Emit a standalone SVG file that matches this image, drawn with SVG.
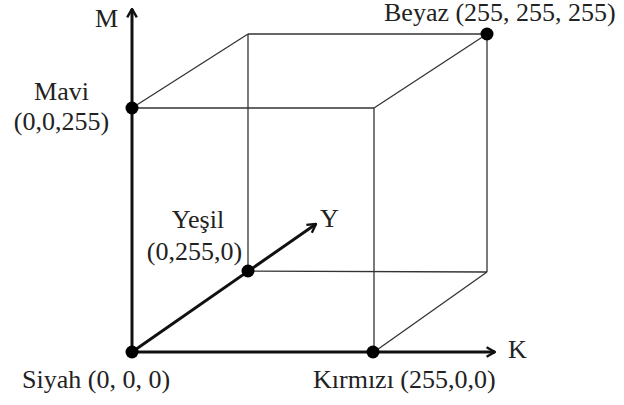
<svg xmlns="http://www.w3.org/2000/svg" width="624" height="405" viewBox="0 0 624 405">
<style>
.axis{stroke:#111;stroke-width:3;fill:none}
.edge{stroke:#333;stroke-width:1.3;fill:none}
.dot{fill:#000}
</style>
<defs>
<marker id="arr" viewBox="0 0 10 10" refX="9" refY="5" markerWidth="4" markerHeight="4" orient="auto" markerUnits="strokeWidth">
<path d="M2,1 L9,5 L2,9" fill="none" stroke="#111" stroke-width="2"/>
</marker>
</defs>
<rect width="624" height="405" fill="#fff"/>
<g id="connectors">
<line class="edge" x1="132" y1="108" x2="374" y2="108"/>
<line class="edge" x1="374" y1="108" x2="374" y2="352"/>
<line class="edge" x1="248" y1="34" x2="487" y2="34"/>
<line class="edge" x1="487" y1="34" x2="487" y2="272"/>
<line class="edge" x1="248" y1="271" x2="487" y2="272"/>
<line class="edge" x1="248" y1="34" x2="248" y2="271"/>
<line class="edge" x1="132" y1="108" x2="248" y2="34"/>
<line class="edge" x1="374" y1="108" x2="487" y2="34"/>
<line class="edge" x1="374" y1="352" x2="487" y2="272"/>
<line class="axis" x1="132" y1="352" x2="132" y2="9" marker-end="url(#arr)"/>
<line class="axis" x1="132" y1="352" x2="495" y2="352" marker-end="url(#arr)"/>
<line class="axis" x1="132" y1="352" x2="316" y2="224" stroke-width="2.6" marker-end="url(#arr)"/>
</g>
<g font-family="Times New Roman, Liberation Serif, DejaVu Serif, serif" font-size="26" fill="#222">
<g id="axis-M"><text x="95" y="27">M</text></g>
<g id="axis-K"><text x="508" y="358">K</text></g>
<g id="axis-Y"><text x="320" y="227">Y</text></g>
<g id="siyah">
<circle class="dot" cx="132" cy="352" r="6.5"/>
<text x="22" y="388">Siyah (0, 0, 0)</text>
</g>
<g id="kirmizi">
<circle class="dot" cx="373" cy="352" r="6.5"/>
<text x="313" y="388">Kırmızı (255,0,0)</text>
</g>
<g id="mavi">
<circle class="dot" cx="132" cy="108" r="6.5"/>
<text x="61.5" y="100" text-anchor="middle">Mavi</text>
<text x="61.5" y="130" text-anchor="middle">(0,0,255)</text>
</g>
<g id="yesil">
<circle class="dot" cx="248" cy="271" r="6.5"/>
<text x="198" y="228" text-anchor="middle">Yeşil</text>
<text x="194.5" y="260" text-anchor="middle">(0,255,0)</text>
</g>
<g id="beyaz">
<circle class="dot" cx="487" cy="34" r="6.5"/>
<text x="384" y="21">Beyaz (255, 255, 255)</text>
</g>
</g>
</svg>
